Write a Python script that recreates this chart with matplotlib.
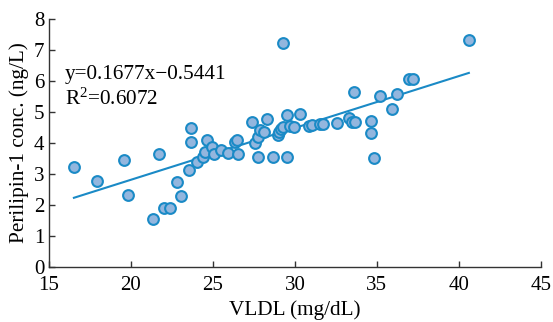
import matplotlib
matplotlib.use("Agg")
import matplotlib.pyplot as plt
import numpy as np

vldl = [16.52, 17.93, 19.57, 19.82, 21.34, 21.71, 22.01, 22.38, 22.80, 23.05,
        23.57, 23.66, 23.66, 24.01, 24.39, 24.51, 24.62, 24.92, 25.09, 25.49,
        25.93, 26.37, 26.49, 26.54, 27.41, 27.59, 27.73, 27.76, 27.87, 28.11,
        28.28, 28.66, 28.98, 29.05, 29.15, 29.27, 29.27, 29.49, 29.49, 29.70,
        29.94, 30.30, 30.88, 31.04, 31.52, 31.71, 32.56, 33.31, 33.48, 33.66,
        33.60, 34.62, 34.62, 34.82, 35.18, 35.91, 36.22, 36.95, 37.20, 40.61]
perilipin = [3.22, 2.77, 3.45, 2.33, 1.54, 3.64, 1.90, 1.90, 2.74, 2.29,
             3.13, 4.48, 4.02, 3.39, 3.53, 3.71, 4.11, 3.88, 3.65, 3.77,
             3.67, 4.03, 4.08, 3.64, 4.68, 4.00, 3.56, 4.19, 4.42, 4.36,
             4.76, 3.56, 4.26, 4.37, 4.45, 4.53, 7.23, 3.56, 4.90, 4.56,
             4.52, 4.94, 4.55, 4.58, 4.60, 4.61, 4.66, 4.80, 4.68, 4.68,
             5.66, 4.72, 4.31, 3.50, 5.52, 5.09, 5.57, 6.06, 6.06, 7.33]
slope, intercept = 0.1677, -0.5441
eq_text = "y=0.1677x\u22120.5441"
r2_text = "R$^{2}$=0.6072"
x_ticks = [15, 20, 25, 30, 35, 40, 45]
y_ticks = [0, 1, 2, 3, 4, 5, 6, 7, 8]

plt.rcParams['font.family'] = ['Liberation Serif', 'DejaVu Serif']
plt.rcParams['mathtext.fontset'] = 'custom'
plt.rcParams['mathtext.rm'] = 'Liberation Serif'
plt.rcParams['mathtext.default'] = 'rm'

fig = plt.figure(figsize=(5.53, 3.22), dpi=100)
ax = fig.add_axes([0.0886, 0.172, 0.8894, 0.768])

line_color = '#1a8ac6'
ax.scatter(vldl, perilipin, s=60, facecolor='#93b6de', edgecolor=line_color,
           linewidth=1.5, zorder=3)
xs = np.array([min(vldl), max(vldl)])
ax.plot(xs, slope * xs + intercept, color=line_color, linewidth=1.5, zorder=2)

ax.text(15.95, 6.2, eq_text, fontsize=15.3, va='center', ha='left')
ax.text(15.95, 5.42, r2_text, fontsize=15.3, va='center', ha='left')

ax.set_xlim(15, 45)
ax.set_ylim(0, 8)
ax.set_xticks(x_ticks)
ax.set_yticks(y_ticks)
for s in ['top', 'right']:
    ax.spines[s].set_visible(False)
for s in ['left', 'bottom']:
    ax.spines[s].set_color('#333333')
    ax.spines[s].set_linewidth(1.0)
ax.tick_params(direction='in', length=4, width=1.0, color='#333333',
               labelsize=15)
ax.tick_params(axis='x', pad=6.5)
ax.tick_params(axis='y', pad=3.5)
ax.set_xlabel("VLDL (mg/dL)", fontsize=15.3, labelpad=4)
ax.set_ylabel("Perilipin-1 conc. (ng/L)", fontsize=15.3, labelpad=3)

fig.savefig("out.png", dpi=100)
